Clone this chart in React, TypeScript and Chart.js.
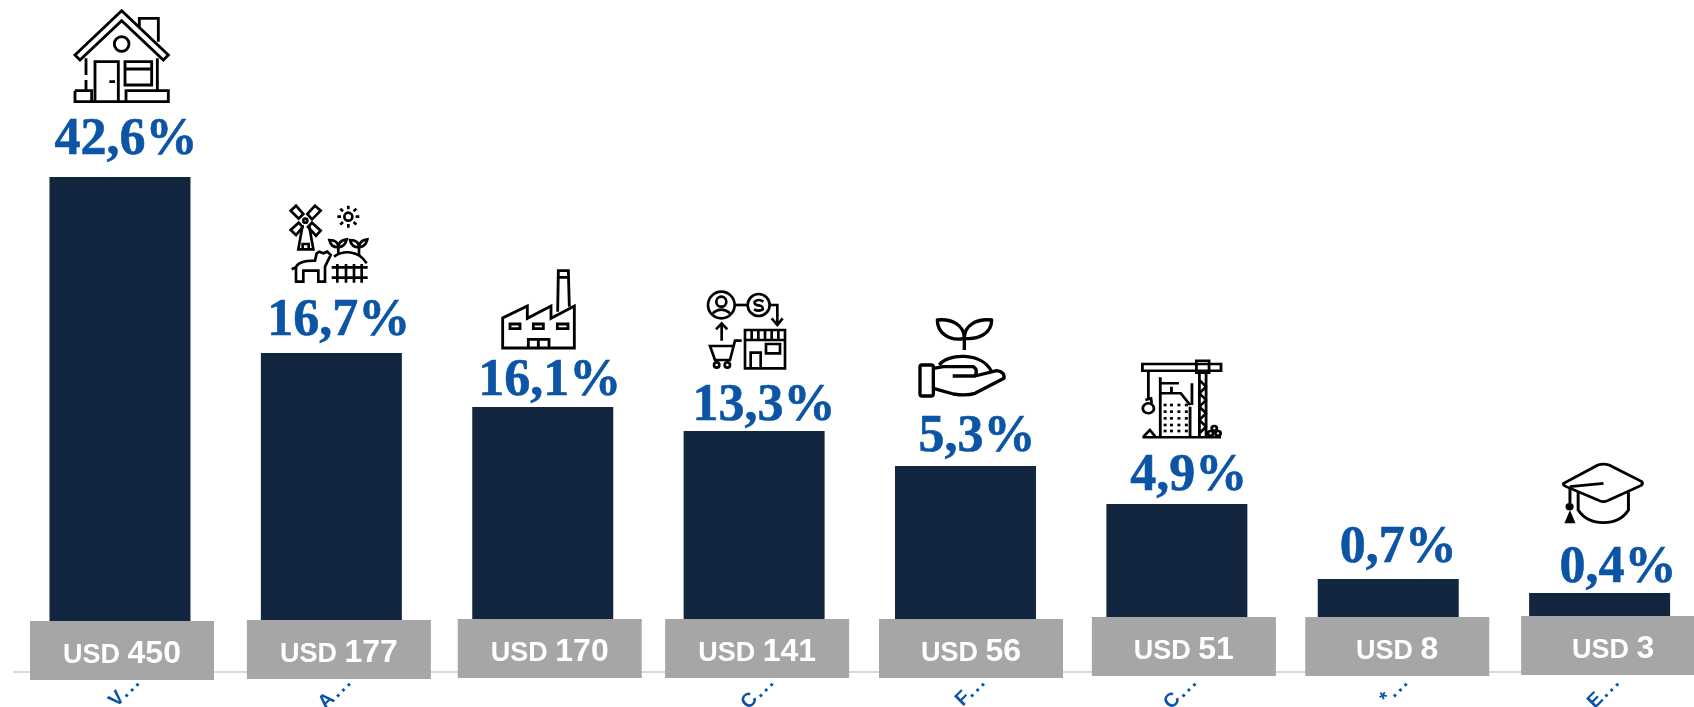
import React, { useEffect, useRef } from "react";
import { Chart, registerables } from "chart.js";

Chart.register(...registerables);

// ---- data ----
const categories = ["V...", "A...", "", "C...", "F...", "C...", "*...", "E..."];
const barHeights = [495, 319, 265, 241, 206, 168, 93, 79]; // drawn height of each column, in axis units
const usdValues = [450, 177, 170, 141, 56, 51, 8, 3];
const shareLabels = ["42,6%", "16,7%", "16,1%", "13,3%", "5,3%", "4,9%", "0,7%", "0,4%"];

// ---- layout (offsets relative to each bar) ----
const shareDx = [6, 7.5, 7, 10, 11.5, 12, 10, 18.5];
const shareDy = [-23, -18, -12, -11, -15, -14, -17, -11];
const boxDx = [2, 7.5, 7, 3, 5.5, 7, 9, 13.5];
const boxTopOffset = [-51, -52, -53, -53, -53, -55, -55, -56];
const BOX_W = 184;
const BOX_H = 59;

const NAVY = "#12263F";
const BLUE = "#0B54A6";
const GREY = "#A6A6A6";

type Shape = (ctx: CanvasRenderingContext2D) => void;

function strokePaths(ctx: CanvasRenderingContext2D, paths: string[]) {
  paths.forEach((d) => ctx.stroke(new Path2D(d)));
}
function circle(ctx: CanvasRenderingContext2D, x: number, y: number, r: number, fill = false) {
  ctx.beginPath();
  ctx.arc(x, y, r, 0, Math.PI * 2);
  if (fill) ctx.fill();
  else ctx.stroke();
}

const house: Shape = (ctx) => {
  ctx.lineWidth = 8.5;
  strokePaths(ctx, [
    "M105 165 L245 32 L385 165 L370 180 L245 62 L120 180 Z",
    "M298 80 V55 H355 V125",
    "M138 175 V225 M138 240 V272 M352 175 V272",
    "M165 305 V185 H235 V305 M208 245 H225",
    "M255 185 H335 V255 H255 Z M255 207 H335",
    "M105 272 H155 V305 M105 272 V305 H385 V272 H258 V305",
  ]);
  circle(ctx, 245, 132, 22);
};

const farm: Shape = (ctx) => {
  ctx.lineWidth = 8;
  strokePaths(ctx, [
    "M92 62 L108 47 L130 72 L116 86 Z",
    "M165 47 L182 62 L156 88 L142 72 Z",
    "M92 120 L116 98 L128 111 L108 135 Z",
    "M156 98 L182 122 L168 137 L144 111 Z",
    "M128 105 L115 178 H160 L147 105 M128 178 V162 H146 V178",
    "M265 47 V58 M265 102 V113 M232 80 H243 M287 80 H298 M241 56 L249 64 M289 56 L281 64 M241 104 L249 96 M289 104 L281 96",
    "M235 195 V172 C215 172 210 160 208 150 C225 150 235 155 235 172 C250 170 258 160 260 148 C245 150 235 155 235 172",
    "M297 195 V172 C277 172 272 160 270 150 C287 150 297 155 297 172 C312 170 320 160 322 148 C307 150 297 155 297 172",
    "M222 200 C250 180 295 180 320 220",
    "M215 232 H323 M215 263 H323 M232 222 V278 M258 222 V278 M282 222 V278 M305 222 V278",
    "M108 275 V232 Q115 212 165 212 L170 190 L178 185 L190 190 L202 185 L212 195 L195 230 V275 H175 V242 H130 V275 Z M108 232 L95 238",
  ]);
  circle(ctx, 265, 80, 12);
  circle(ctx, 136, 92, 6);
};

const factory: Shape = (ctx) => {
  ctx.lineWidth = 8.5;
  strokePaths(ctx, [
    "M728 474 V384 L802 348 V385 L873 348 V385 L943 348 V474 Z",
    "M893 365 L895 242 H925 L928 350 M895 262 H925",
    "M750 402 H780 V416 H750 Z M820 402 H850 V416 H820 Z M892 402 H924 V416 H892 Z",
    "M805 474 V448 H867 V474 M835 448 V474",
  ]);
};

const commerce: Shape = (ctx) => {
  ctx.lineWidth = 8;
  strokePaths(ctx, [
    "M98 130 Q124 108 150 130",
    "M165 105 H203",
    "M250 95 Q236 85 224 95 Q222 105 236 106 Q250 108 248 118 Q236 126 222 118",
    "M270 105 H292 V160 M275 145 L292 165 L308 145",
    "M125 212 V162 M108 178 L125 160 L142 178",
    "M185 212 H165 L150 270 H105 L90 228 H160",
    "M195 180 H315 V295 H195 Z M195 210 H315 M215 180 V210 M235 180 V210 M255 180 V210 M275 180 V210 M295 180 V210",
    "M212 295 V248 H242 V295 M258 222 H300 V250 H258 Z",
  ]);
  circle(ctx, 124, 105, 40);
  circle(ctx, 124, 95, 15);
  circle(ctx, 236, 105, 33);
  circle(ctx, 110, 285, 8);
  circle(ctx, 142, 285, 8);
};

const hand: Shape = (ctx) => {
  ctx.lineWidth = 10;
  ctx.lineJoin = "round";
  strokePaths(ctx, [
    "M853 240 V205 C810 215 772 190 772 150 C815 145 853 165 853 205 C895 210 935 190 935 150 C890 145 853 165 853 205",
    "M778 285 C800 250 905 245 935 305",
    "M726 285 H754 Q760 285 760 291 V372 Q760 378 754 378 H726 Q720 378 720 372 V291 Q720 285 726 285 Z",
    "M760 295 L790 290 H880 Q895 300 885 318 H818 M885 318 L950 302 Q975 305 972 325 L885 370 Q860 378 820 372 L760 355",
  ]);
};

const crane: Shape = (ctx) => {
  ctx.lineWidth = 7.5;
  strokePaths(ctx, [
    "M87 42 H298 V62 H87 Z",
    "M232 32 H266 V68 H232 Z",
    "M240 68 V260 M258 68 V260 M240 90 L258 110 L240 130 L258 150 L240 170 L258 190 L240 210 L258 230 L240 250",
    "M103 62 V145 M95 150 L110 145 L112 160",
    "M135 82 V260 M135 100 H185 M135 130 H190 L215 165 M220 100 V165 M215 170 V258 M165 110 V130",
    "M87 262 H298 M90 260 L107 240 L122 260",
  ]);
  circle(ctx, 103, 175, 15);
  [148, 165, 185, 205].forEach((x) =>
    [165, 185, 205, 225, 243].forEach((y) => ctx.fillRect(x - 4, y - 4, 8, 8))
  );
  circle(ctx, 280, 235, 7);
  circle(ctx, 270, 250, 7);
  circle(ctx, 290, 250, 7);
};

const cap: Shape = (ctx) => {
  ctx.lineWidth = 8;
  ctx.lineJoin = "round";
  strokePaths(ctx, [
    "M1218 400 L1310 345 Q1325 340 1340 345 L1428 395 Q1432 402 1425 407 L1340 450 Q1325 460 1310 450 L1225 410 Q1215 405 1218 400 Z",
    "M1235 410 L1325 400 M1235 410 V460",
    "M1257 425 V480 Q1280 518 1325 518 Q1370 518 1392 480 V425",
  ]);
  circle(ctx, 1234, 470, 11, true);
  ctx.fill(new Path2D("M1220 520 L1235 480 L1250 520 Z"));
};

const icons: { shape: Shape; ox: number; oy: number; sx: number; sy: number }[] = [
  { shape: house, ox: 40, oy: 0, sx: 1 / 3, sy: 1 / 3 },
  { shape: farm, ox: 260, oy: 190, sx: 1 / 3, sy: 1 / 3 },
  { shape: factory, ox: 260, oy: 190, sx: 1 / 3, sy: 1 / 3 },
  { shape: commerce, ox: 680, oy: 270, sx: 1 / 3, sy: 1 / 3 },
  { shape: hand, ox: 680, oy: 270, sx: 1 / 3, sy: 1 / 3 },
  { shape: crane, ox: 1110, oy: 350, sx: 1 / 2.685, sy: 1 / 3 },
  { shape: cap, ox: 1110, oy: 350, sx: 1 / 2.685, sy: 1 / 3 },
];

const decorPlugin = {
  id: "decor",
  beforeDraw(chart: any) {
    // the tick labels in the reference have widely spaced dots
    chart.ctx.letterSpacing = "2px";
  },
  afterDatasetsDraw(chart: any) {
    const ctx: CanvasRenderingContext2D = chart.ctx;
    (ctx as any).letterSpacing = "0px";
    const bars = chart.getDatasetMeta(0).data;
    const base = chart.scales.y.getPixelForValue(0);
    ctx.save();
    bars.forEach((bar: any, i: number) => {
      // share label above the bar
      ctx.fillStyle = BLUE;
      ctx.strokeStyle = BLUE;
      ctx.lineWidth = 0.6;
      ctx.font = 'bold 52px "Liberation Serif"';
      ctx.textAlign = "center";
      ctx.textBaseline = "alphabetic";
      ctx.fillText(shareLabels[i], bar.x + shareDx[i], bar.y + shareDy[i]);
      ctx.strokeText(shareLabels[i], bar.x + shareDx[i], bar.y + shareDy[i]);

      // grey value box
      const cx = bar.x + boxDx[i];
      const top = base + boxTopOffset[i];
      ctx.fillStyle = GREY;
      ctx.fillRect(cx - BOX_W / 2, top, BOX_W, BOX_H);

      // two-size value text
      const a = "USD ";
      const b = String(usdValues[i]);
      ctx.font = 'bold 27px "Liberation Sans"';
      const wa = ctx.measureText(a).width;
      ctx.font = 'bold 32px "Liberation Sans"';
      const wb = ctx.measureText(b).width;
      const left = cx - (wa + wb) / 2;
      const y = top + 42;
      ctx.fillStyle = "#FFFFFF";
      ctx.textAlign = "left";
      ctx.font = 'bold 27px "Liberation Sans"';
      ctx.fillText(a, left, y);
      ctx.font = 'bold 32px "Liberation Sans"';
      ctx.fillText(b, left + wa, y);
    });
    ctx.strokeStyle = "#000000";
    ctx.fillStyle = "#000000";
    ctx.lineCap = "butt";
    icons.forEach((ic) => {
      ctx.save();
      ctx.translate(ic.ox, ic.oy);
      ctx.scale(ic.sx, ic.sy);
      ic.shape(ctx);
      ctx.restore();
    });
    ctx.restore();
  },
};

export default function App() {
  const ref = useRef<HTMLCanvasElement>(null);
  useEffect(() => {
    if (!ref.current) return;
    const chart = new Chart(ref.current, {
      type: "bar",
      data: {
        labels: categories,
        datasets: [
          {
            data: barHeights,
            backgroundColor: NAVY,
            categoryPercentage: 1,
            barPercentage: 0.667,
          },
        ],
      },
      options: {
        animation: false,
        responsive: false,
        layout: { padding: { left: 14.3, right: 4.7, top: 0, bottom: 0 } },
        plugins: { legend: { display: false }, title: { display: false }, tooltip: { enabled: false } },
        scales: {
          x: {
            grid: { display: false, drawTicks: false },
            border: { display: true, color: "#D9D9D9", width: 2 },
            afterFit(scale: any) {
              scale.height = 35;
            },
            ticks: {
              color: BLUE,
              font: { family: '"Liberation Sans"', weight: "bold", size: 20 },
              minRotation: 45,
              maxRotation: 45,
              padding: -2,
              labelOffset: 18,
              autoSkip: false,
            },
          },
          y: { display: false, min: 0, max: 672 },
        },
      },
      plugins: [decorPlugin],
    } as any);
    return () => chart.destroy();
  }, []);
  return (
    <div
      style={{
        position: "fixed",
        left: 0,
        top: 0,
        width: 1694,
        height: 707,
        overflow: "hidden",
        background: "#FFFFFF",
      }}
    >
      <canvas ref={ref} width={1710} height={707} style={{ display: "block" }} />
    </div>
  );
}
